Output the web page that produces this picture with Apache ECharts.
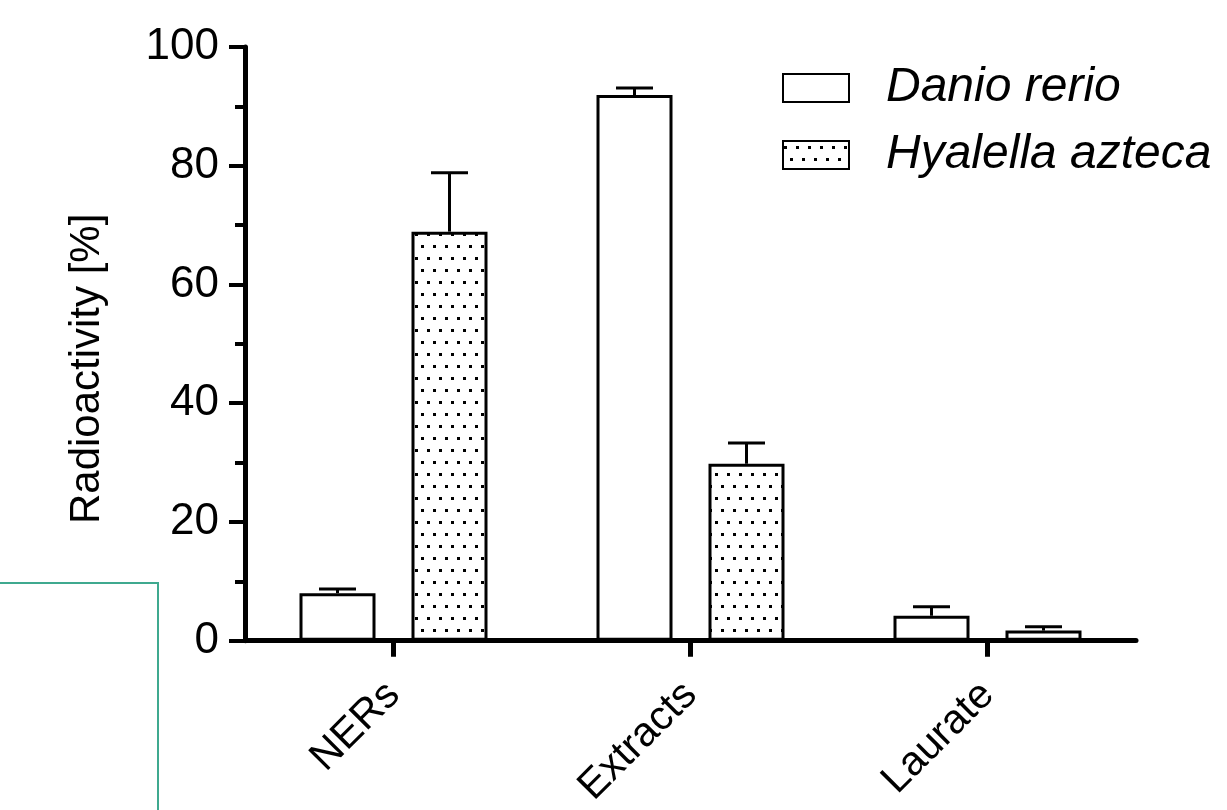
<!DOCTYPE html>
<html>
<head>
<meta charset="utf-8">
<script src="https://cdn.jsdelivr.net/npm/echarts@6/dist/echarts.min.js"></script>
<style>
    html, body { margin: 0; padding: 0; background: #fff; }
    #chart { width: 1227px; height: 810px; }
</style>
</head>
<body>
<div id="chart"></div>
<script>
const categories = ['NERs', 'Extracts', 'Laurate'];
const seriesNames = ['Danio rerio', 'Hyalella azteca'];
const danioMean = [8.0, 91.9, 4.2];
const danioErr = [0.7, 1.2, 1.5];
const hyalellaMean = [68.9, 29.8, 1.7];
const hyalellaErr = [9.9, 3.5, 0.65];
const yTicks = [0, 20, 40, 60, 80, 100];

const BAR_W = 76;
const BAR_GAP = 36;
const CAP_W = 37;
const FONT = '"Liberation Sans", Arial, sans-serif';

// dotted fill for the second series
function dotPattern() {
    const c = document.createElement('canvas');
    c.width = 12;
    c.height = 24;
    const ctx = c.getContext('2d');
    ctx.fillStyle = '#fff';
    ctx.fillRect(0, 0, 12, 24);
    ctx.fillStyle = '#000';
    ctx.fillRect(1, 5, 3, 3);
    ctx.fillRect(7, 17, 3, 3);
    return { image: c, repeat: 'repeat' };
}

function errorData(means, errs) {
    return means.map(function (m, i) {
        return [i, m + errs[i], m];
    });
}

function errorSeries(name, means, errs, offset) {
    return {
        type: 'custom',
        name: name + ' err',
        z: 1,
        silent: true,
        data: errorData(means, errs),
        encode: { x: 0, y: [1, 2] },
        renderItem: function (params, api) {
            const top = api.coord([api.value(0), api.value(1)]);
            const base = api.coord([api.value(0), api.value(2)]);
            const x = top[0] + offset;
            const style = { stroke: '#000', lineWidth: 3 };
            return {
                type: 'group',
                children: [
                    { type: 'line', shape: { x1: x, y1: base[1], x2: x, y2: top[1] }, style: style },
                    { type: 'line', shape: { x1: x - CAP_W / 2, y1: top[1], x2: x + CAP_W / 2, y2: top[1] }, style: style }
                ]
            };
        }
    };
}

const chart = echarts.init(document.getElementById('chart'));
const halfStep = (BAR_W + BAR_GAP) / 2;

chart.setOption({
    animation: false,
    backgroundColor: '#fff',
    grid: { left: 245, right: 91, top: 47, bottom: 168 },
    legend: {
        orient: 'vertical',
        left: 782,
        top: 64,
        padding: 0,
        itemWidth: 66,
        itemHeight: 28,
        itemGap: 19,
        icon: 'rect',
        data: seriesNames,
        textStyle: { fontFamily: FONT, fontSize: 48, fontStyle: 'italic', color: '#000', padding: [0, 0, 0, 32] }
    },
    xAxis: {
        type: 'category',
        data: categories,
        axisLine: { lineStyle: { color: '#000', width: 5 } },
        axisTick: { show: true, alignWithLabel: true, length: 16, lineStyle: { color: '#000', width: 5 } },
        axisLabel: {
            rotate: 45,
            margin: 48,
            fontFamily: FONT,
            fontSize: 41,
            color: '#000'
        }
    },
    yAxis: {
        type: 'value',
        min: yTicks[0],
        max: yTicks[yTicks.length - 1],
        interval: 20,
        name: 'Radioactivity [%]',
        nameLocation: 'middle',
        nameGap: 137,
        nameTextStyle: { fontFamily: FONT, fontSize: 42, color: '#000', padding: [0, 50, 0, 0] },
        axisLine: { show: true, lineStyle: { color: '#000', width: 5 } },
        axisTick: { show: true, length: 16, lineStyle: { color: '#000', width: 4 } },
        minorTick: { show: true, splitNumber: 2, length: 10, lineStyle: { color: '#000', width: 4 } },
        splitLine: { show: false },
        axisLabel: { margin: 26, fontFamily: FONT, fontSize: 44, color: '#000' }
    },
    graphic: [{
        type: 'rect',
        shape: { x: -10, y: 583, width: 168, height: 240 },
        style: { fill: 'none', stroke: '#3fa98f', lineWidth: 2 }
    }],
    series: [
        {
            type: 'bar',
            name: seriesNames[0],
            data: danioMean,
            barWidth: BAR_W,
            barGap: (BAR_GAP / BAR_W * 100) + '%',
            z: 2,
            itemStyle: { color: '#fff', borderColor: '#000', borderWidth: 3 }
        },
        {
            type: 'bar',
            name: seriesNames[1],
            data: hyalellaMean,
            barWidth: BAR_W,
            z: 2,
            itemStyle: { color: dotPattern(), borderColor: '#000', borderWidth: 3 }
        },
        errorSeries(seriesNames[0], danioMean, danioErr, -halfStep),
        errorSeries(seriesNames[1], hyalellaMean, hyalellaErr, halfStep)
    ]
});
</script>
</body>
</html>
